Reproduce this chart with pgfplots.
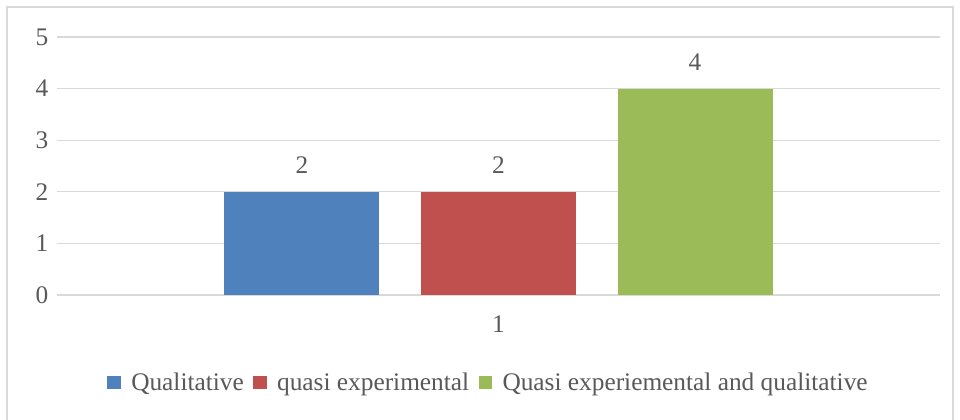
\documentclass[border=0pt]{standalone}
\usepackage{pgfplots}
\pgfplotsset{compat=1.18}
\usepackage{fontspec}
\setmainfont{Liberation Serif}
\definecolor{cblue}{HTML}{4F81BD}
\definecolor{cred}{HTML}{C0504D}
\definecolor{cgreen}{HTML}{9BBB59}
\definecolor{cgrid}{HTML}{D9D9D9}
\definecolor{ctext}{HTML}{595959}
\begin{document}
\begin{tikzpicture}
\useasboundingbox (0pt,0pt) rectangle (720pt,314.25pt);
\draw[cgrid, line width=0.9pt] (5.25pt,-3pt) rectangle (714.75pt,309pt);
\begin{axis}[
  at={(42.75pt,93pt)}, anchor=south west,
  scale only axis, width=662.25pt, height=193.5pt,
  xmin=0.5, xmax=1.5, ymin=0, ymax=5,
  axis line style={draw=none},
  ymajorgrids, grid style={cgrid, line width=0.9pt},
  ytick={0,1,2,3,4,5}, xtick={1},
  major tick length=0pt,
  tick label style={font=\fontsize{19}{22}\selectfont, text=ctext},
  /pgf/number format/assume math mode=true,
  yticklabel style={xshift=-3pt},
  xticklabel style={yshift=-12pt},
  ybar, bar width=116.25pt,
  nodes near coords,
  every node near coord/.append style={font=\fontsize{19}{22}\selectfont, text=ctext, yshift=10pt},
  legend columns=-1,
  legend style={draw=none, at={(0.489,-0.34)}, anchor=center, font=\fontsize{19}{22}\selectfont, text=ctext,
    /tikz/every even column/.append style={column sep=5pt},
    /tikz/every odd column/.append style={column sep=6pt}},
  legend image code/.code={\fill[#1] (0pt,-5pt) rectangle (10pt,5pt);},
  clip=false,
]
\addplot[fill=cblue, draw=none, bar shift=-147.4pt] coordinates {(1,2)};
\addplot[fill=cred, draw=none, bar shift=0pt] coordinates {(1,2)};
\addplot[fill=cgreen, draw=none, bar shift=147.4pt] coordinates {(1,4)};
\legend{Qualitative, quasi experimental, Quasi experiemental and qualitative}
\end{axis}
\end{tikzpicture}
\end{document}
